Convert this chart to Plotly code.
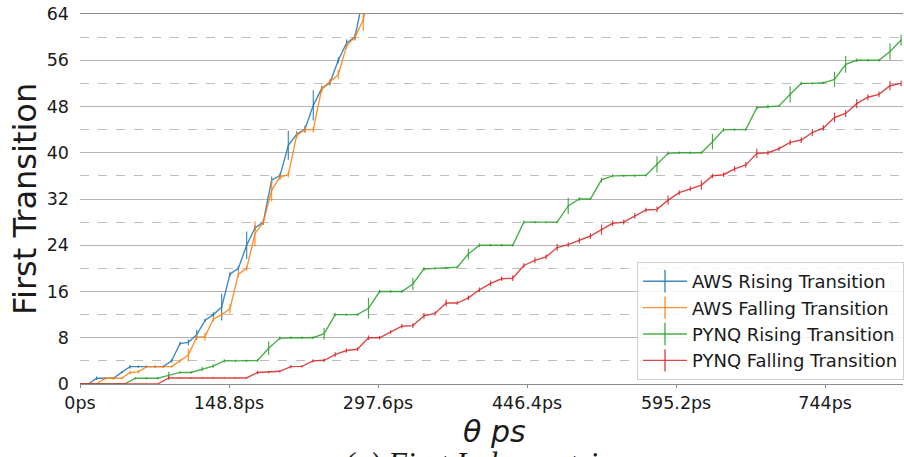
import plotly.graph_objects as go

# ---- data -------------------------------------------------------------
# sampling steps of the phase sweep (ps)
aws_step_ps = 8.32
pynq_step_ps = 11.08

aws_rising = [0, 0, 1, 1, 1, 2, 3, 3, 3, 3, 3, 4, 7, 7.2, 8.5, 11, 12, 13.3, 19, 20,
              24, 27, 28, 35.3, 36, 41.3, 43.2, 44.1, 48.2, 51.1, 52.1, 56, 59, 60, 67]
aws_rising_err = [0, 0, 0.3, 0.2, 0.2, 0.2, 0.3, 0.2, 0.2, 0.2, 0.2, 0.3, 0.3, 0.5, 0.9, 0.3,
                  0.4, 2.3, 0.4, 0.4, 2.4, 0.5, 0.5, 0.6, 0.5, 2.5, 0.5, 0.6, 2.6, 0.5, 0.5,
                  0.5, 0.6, 0.6, 0.6]

aws_falling = [0, 0, 0, 1, 1, 1, 2, 2.1, 3, 3, 3, 3, 4, 5, 8.1, 8.2, 11.2, 12, 13, 19, 20,
               26, 28, 33.5, 35.8, 36.2, 43, 44, 44, 51, 52.3, 53.5, 58.5, 60, 63, 69]
aws_falling_err = [0, 0, 0, 0.2, 0.2, 0.2, 0.3, 0.3, 0.2, 0.2, 0.2, 0.2, 0.3, 1.1, 0.4, 0.7,
                   0.4, 0.4, 0.8, 0.5, 0.4, 2.2, 0.5, 1.9, 0.5, 0.5, 0.5, 0.5, 0.5, 0.6, 0.5,
                   0.8, 0.5, 0.5, 1.9, 0.5]

pynq_rising = [0, 0, 0, 0, 0, 1, 1, 1, 1.5, 2, 2, 2.6, 3.1, 4, 4, 4, 4.05, 6.2, 7.9, 8,
               8, 8, 8.7, 12, 12, 12, 13.1, 16, 16, 16, 17.3, 19.9, 20, 20.1, 20.2, 22.5,
               24, 24, 24, 24, 28, 28, 28, 28, 30.8, 32, 32, 35.3, 36, 36, 36, 36.1, 38,
               39.9, 40, 40, 40, 41.9, 44, 44, 44, 47.8, 48, 48.1, 50.1, 52, 52, 52.1,
               52.7, 55.3, 56, 56, 56, 57.5, 59.5]
pynq_rising_err = [0, 0, 0, 0, 0, 0.2, 0.2, 0.2, 0.6, 0.2, 0.2, 0.4, 0.3, 0.3, 0.2, 0.2,
                   0.2, 1.2, 0.3, 0.2, 0.2, 0.2, 1.0, 0.3, 0.2, 0.2, 1.8, 0.3, 0.2, 0.2,
                   1.1, 0.3, 0.2, 0.2, 0.2, 0.95, 0.3, 0.2, 0.2, 0.2, 0.3, 0.2, 0.2, 0.2,
                   1.4, 0.3, 0.2, 0.4, 0.3, 0.2, 0.2, 0.2, 1.4, 0.3, 0.2, 0.2, 0.2, 1.35,
                   0.3, 0.2, 0.2, 0.3, 0.3, 0.2, 1.4, 0.3, 0.2, 0.2, 1.3, 1.45, 0.3, 0.2,
                   0.2, 1.4, 0.95]

pynq_falling = [0, 0, 0, 0, 0, 0, 0, 0, 1.05, 1.05, 1.05, 1.05, 1.05, 1.05, 1.05, 1.05,
                2.0, 2.05, 2.2, 3.0, 3.05, 4.0, 4.1, 5.1, 5.8, 6.0, 8.0, 8.0, 9.0, 10.0,
                10.1, 11.8, 12.2, 14.0, 14.0, 14.9, 16.3, 17.4, 18.2, 18.3, 20.5, 21.4,
                22.0, 23.6, 24.1, 24.8, 25.6, 26.7, 27.8, 28.0, 29.1, 30.1, 30.2, 31.8,
                33.1, 33.8, 34.4, 36.0, 36.2, 37.2, 37.9, 39.9, 40.0, 40.7, 41.8, 42.2,
                43.5, 44.3, 46.1, 46.8, 48.5, 49.6, 50.1, 51.6, 52.0]
pynq_falling_err = [0, 0, 0, 0, 0, 0, 0, 0, 0.3, 0.1, 0.1, 0.1, 0.1, 0.1, 0.1, 0.1,
                    0.3, 0.2, 0.2, 0.3, 0.2, 0.3, 0.3, 0.4, 0.4, 0.3, 0.4, 0.3, 0.3, 0.4,
                    0.4, 0.5, 0.4, 0.6, 0.3, 0.4, 0.4, 0.5, 0.4, 0.5, 0.4, 0.5, 0.4, 0.6,
                    0.4, 0.5, 0.5, 0.9, 0.5, 0.4, 0.5, 0.4, 0.5, 0.8, 0.4, 0.4, 0.8, 0.4,
                    0.4, 0.5, 0.5, 0.8, 0.4, 0.4, 0.5, 0.5, 0.6, 0.5, 0.85, 0.6, 0.8, 0.5,
                    0.5, 0.8, 0.5]

x_tick_vals = [0, 148.8, 297.6, 446.4, 595.2, 744]
x_tick_text = ["0ps", "148.8ps", "297.6ps", "446.4ps", "595.2ps", "744ps"]
y_tick_vals = [0, 8, 16, 24, 32, 40, 48, 56, 64]

series = [
    ("AWS Rising Transition", aws_step_ps, aws_rising, aws_rising_err, (31, 119, 180)),
    ("AWS Falling Transition", aws_step_ps, aws_falling, aws_falling_err, (255, 127, 14)),
    ("PYNQ Rising Transition", pynq_step_ps, pynq_rising, pynq_rising_err, (44, 160, 44)),
    ("PYNQ Falling Transition", pynq_step_ps, pynq_falling, pynq_falling_err, (214, 39, 40)),
]

FONT = "DejaVu Sans"

fig = go.Figure()

for name, step, vals, errs, rgb in series:
    col = "rgba(%d,%d,%d,0.85)" % rgb
    theta = [round(i * step, 3) for i in range(len(vals))]
    fig.add_trace(go.Scatter(
        x=theta, y=vals, mode="lines", name=name, showlegend=False,
        line=dict(color=col, width=1.4),
        error_y=dict(type="data", array=errs, visible=True, color=col,
                     thickness=1.2, width=0),
        cliponaxis=True,
    ))

# legend entries: line with a vertical bar, like an errorbar handle
for name, step, vals, errs, rgb in series:
    col = "rgba(%d,%d,%d,0.85)" % rgb
    fig.add_trace(go.Scatter(
        x=[None], y=[None], mode="lines+markers", name=name,
        line=dict(color=col, width=1.4),
        marker=dict(symbol="line-ns-open", size=18,
                    line=dict(color=col, width=1.4)),
    ))

W, H = 904, 457
L, R, T, B = 80, 0, 14, 73
pw, ph = W - L - R, H - T - B


def px_x(x):
    return (x - L) / pw


def px_y(y):
    return (H - B - y) / ph


fig.update_layout(
    width=W, height=H,
    margin=dict(l=L, r=R, t=T, b=B, pad=0),
    paper_bgcolor="white", plot_bgcolor="white",
    font=dict(family=FONT, size=17, color="#1a1a1a"),
    xaxis=dict(
        range=[0, 821.8], tickvals=x_tick_vals, ticktext=x_tick_text,
        showgrid=False, zeroline=False,
        showline=True, mirror=True, linecolor="#8c8c8c", linewidth=1.2,
        ticks="outside", ticklen=3, tickcolor="#8c8c8c", tickwidth=1,
        tickfont=dict(family=FONT, size=17.5, color="#1a1a1a"),
    ),
    yaxis=dict(
        range=[0, 64], tickvals=y_tick_vals,
        showgrid=True, gridcolor="#b4b4b4", gridwidth=1,
        zeroline=False, showline=False, ticks="",
        ticklabelstandoff=10,
        tickfont=dict(family=FONT, size=17.5, color="#1a1a1a"),
        minor=dict(dtick=4, tick0=0, showgrid=True, gridcolor="#bdbdbd",
                   griddash="dash", gridwidth=1),
    ),
    legend=dict(
        x=px_x(638), y=px_y(262), xanchor="left", yanchor="top",
        bgcolor="rgba(255,255,255,0.85)", bordercolor="#d0d0d0", borderwidth=1,
        font=dict(family=FONT, size=18, color="#1a1a1a"),
        tracegroupgap=0, itemwidth=44,
    ),
    annotations=[
        dict(text="First Transition", xref="paper", yref="paper",
             x=px_x(25), y=0.5, textangle=-90, showarrow=False,
             xanchor="center", yanchor="middle",
             font=dict(family=FONT, size=32, color="#1a1a1a")),
        dict(text="<i>θ ps</i>", xref="paper", yref="paper",
             x=px_x(495), y=px_y(431), showarrow=False,
             xanchor="center", yanchor="middle",
             font=dict(family=FONT, size=30, color="#1a1a1a")),
        dict(text="<i>(a) First Index metric</i>", xref="paper", yref="paper",
             x=px_x(478), y=px_y(463), showarrow=False,
             xanchor="center", yanchor="middle",
             font=dict(family="Liberation Serif", size=31, color="#1a1a1a")),
    ],
)

fig.write_html("out.html")
